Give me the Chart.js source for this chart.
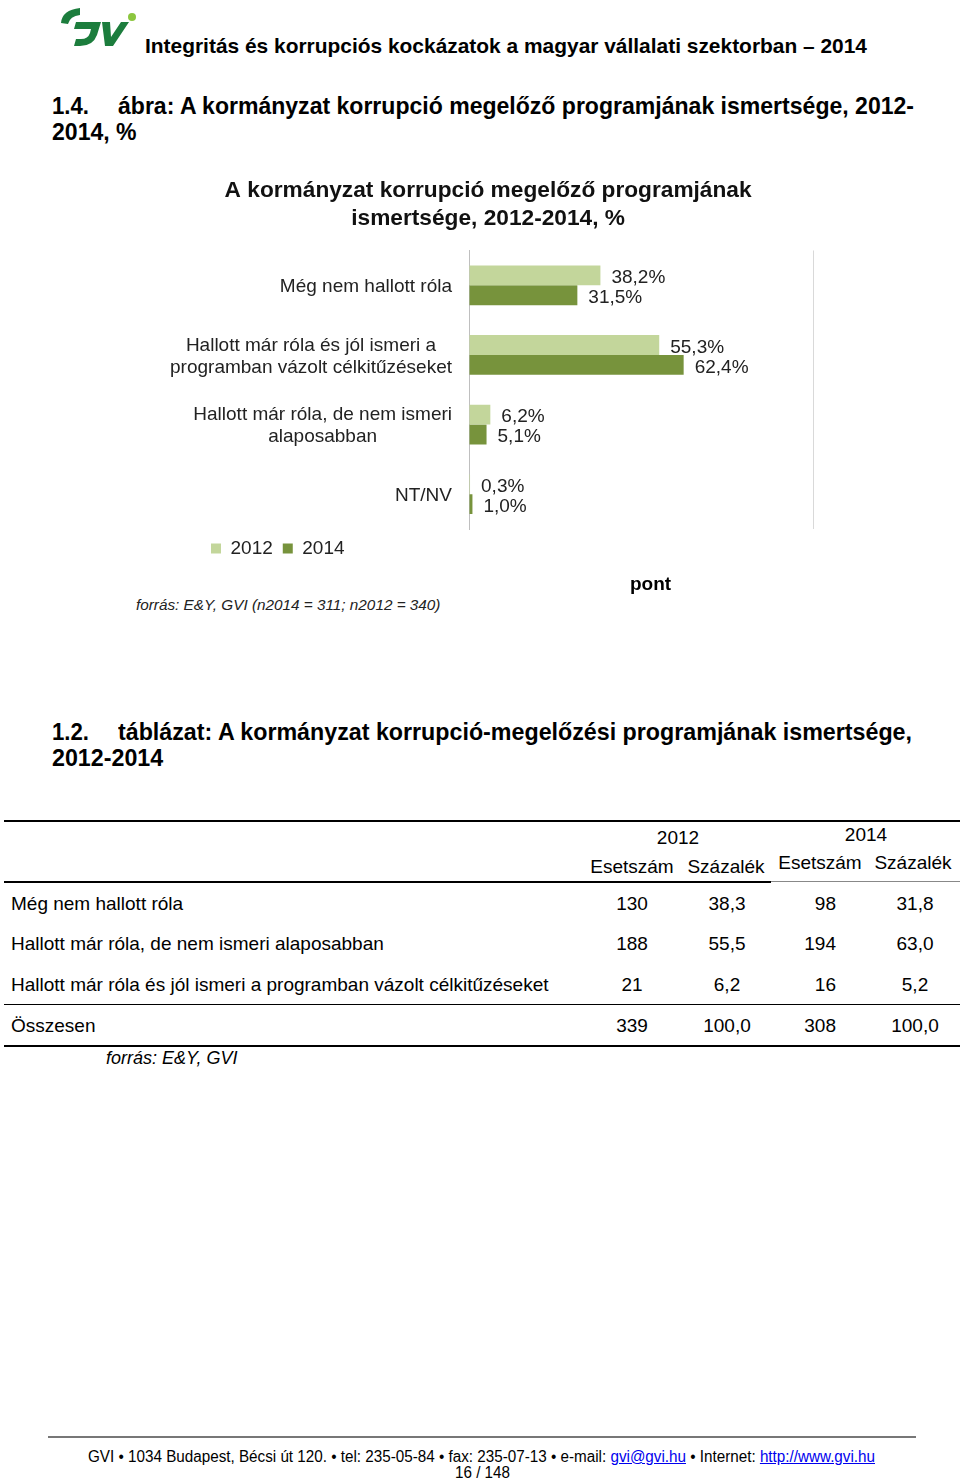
<!DOCTYPE html>
<html>
<head>
<meta charset="utf-8">
<script src="https://cdn.jsdelivr.net/npm/chart.js@4.4.1/dist/chart.umd.min.js"></script>
<style>
body { margin: 0; background: #fff; font-family: "Liberation Sans", Arial, sans-serif; color: #000; }
#page { position: relative; width: 960px; height: 1480px; overflow: hidden; }
.t { position: absolute; white-space: nowrap; line-height: 1; }
.b { font-weight: bold; }
.i { font-style: italic; }
.rule { position: absolute; }
.fit { position: absolute; white-space: nowrap; line-height: 1; transform-origin: 0 50%; }
.hd { font-weight: bold; font-size: 24px; }
#chart { position: absolute; left: 0; top: 165px; }
a { color: #0000ee; }
</style>
</head>
<body>
<div id="page">
  <svg style="position:absolute;left:0;top:0" width="145" height="56">
    <path d="M61 23 Q62 10 80 8 L80 15 Q70 16 68 24 Z" fill="#1c7d3d"/>
    <path d="M76 22 L101 22 L97 35 Q93 46 80 46 L74 46 L76 39 L81 39 Q88 39 90 33 L91 29 L74 29 Z" fill="#1c7d3d"/>
    <path d="M102 22 L110 22 L111 37 L121 22 L129 22 L113 46 L105 46 Z" fill="#1c7d3d"/>
    <circle cx="132" cy="17" r="4" fill="#8cc63f"/>
  </svg>
  <div class="fit b" style="left:145px;top:35px;font-size:21px" data-w="722">Integritás és korrupciós kockázatok a magyar vállalati szektorban – 2014</div>

  <div class="fit hd" style="left:52px;top:94px" data-w="37">1.4.</div>
  <div class="fit hd" id="h1" style="left:118px;top:94px" data-w="796">ábra: A kormányzat korrupció megelőző programjának ismertsége, 2012-</div>
  <div class="fit hd" style="left:52px;top:120px" data-like="h1">2014, %</div>

  <canvas id="chart" width="960" height="410"></canvas>
  <div class="t b" style="left:630px;top:574px;font-size:19px">pont</div>
  <div class="t i" style="left:136px;top:597px;font-size:15.3px;color:#222">forrás: E&amp;Y, GVI (n2014 = 311; n2012 = 340)</div>

  <div class="fit hd" style="left:52px;top:720px" data-w="37">1.2.</div>
  <div class="fit hd" id="h2" style="left:118px;top:720px" data-w="794">táblázat: A kormányzat korrupció-megelőzési programjának ismertsége,</div>
  <div class="fit hd" style="left:52px;top:746px" data-like="h2">2012-2014</div>

  <div id="table"></div>

  <div class="rule" style="left:48px;top:1436px;width:868px;height:2px;background:#777"></div>
  <div class="fit" style="left:88px;top:1449px;font-size:16px" data-w="787">GVI • 1034 Budapest, Bécsi út 120. • tel: 235-05-84 • fax: 235-07-13 • e-mail: <a href="#">gvi@gvi.hu</a> • Internet: <a href="#">http://www.gvi.hu</a></div>
  <div class="fit" style="left:455px;top:1465px;font-size:16px" data-w="55">16 / 148</div>
</div>

<script>
// chart data
const chartCategories = [
  ['Még nem hallott róla'],
  ['Hallott már róla és jól ismeri a', 'programban vázolt célkitűzéseket'],
  ['Hallott már róla, de nem ismeri', 'alaposabban'],
  ['NT/NV']
];
const seriesLabels = ['2012', '2014'];
const values2012 = [38.2, 55.3, 6.2, 0.3];
const values2014 = [31.5, 62.4, 5.1, 1.0];
const scaleMax = 100;

// table data
const tableRows = ['Még nem hallott róla', 'Hallott már róla, de nem ismeri alaposabban', 'Hallott már róla és jól ismeri a programban vázolt célkitűzéseket'];
const count2012 = [130, 188, 21];
const pct2012 = [38.3, 55.5, 6.2];
const count2014 = [98, 194, 16];
const pct2014 = [31.8, 63.0, 5.2];
const totalRow = ['Összesen', 339, 100.0, 308, 100.0];

const FONT = '"Liberation Sans", Arial, sans-serif';
const comma = v => v.toFixed(1).replace('.', ',');

// squeeze the narrow-font lines to the width they have in the original
const scales = {};
document.querySelectorAll('.fit[data-w]').forEach(el => {
  const s = +el.dataset.w / el.getBoundingClientRect().width;
  if (el.id) scales[el.id] = s;
  el.style.transform = 'scaleX(' + s + ')';
});
document.querySelectorAll('.fit[data-like]').forEach(el => {
  el.style.transform = 'scaleX(' + scales[el.dataset.like] + ')';
});

// y labels: each block right aligned, lines centred inside the block
const catLabels = {
  id: 'catLabels',
  afterDraw(chart) {
    const ctx = chart.ctx, y = chart.scales.y;
    ctx.save();
    ctx.font = '19px ' + FONT;
    ctx.fillStyle = '#222';
    ctx.textAlign = 'center';
    ctx.textBaseline = 'middle';
    const right = chart.chartArea.left - 17;
    chart.data.labels.forEach((lines, i) => {
      const w = Math.max(...lines.map(l => ctx.measureText(l).width));
      const cy = y.getPixelForTick(i);
      lines.forEach((l, k) => {
        ctx.fillText(l, right - w / 2, cy + (k - (lines.length - 1) / 2) * 22 + 1.5);
      });
    });
    ctx.restore();
  }
};

const valueLabels = {
  id: 'valueLabels',
  afterDatasetsDraw(chart) {
    const ctx = chart.ctx;
    ctx.save();
    ctx.font = '19px ' + FONT;
    ctx.fillStyle = '#222';
    ctx.textAlign = 'left';
    ctx.textBaseline = 'middle';
    chart.data.datasets.forEach((ds, di) => {
      chart.getDatasetMeta(di).data.forEach((bar, i) => {
        ctx.fillText(comma(ds.data[i]) + '%', bar.x + 11, bar.y + 2.5);
      });
    });
    ctx.restore();
  }
};

new Chart(document.getElementById('chart'), {
  type: 'bar',
  data: {
    labels: chartCategories,
    datasets: [
      { label: seriesLabels[0], data: values2012, backgroundColor: '#c3d69b', categoryPercentage: 0.572, barPercentage: 1 },
      { label: seriesLabels[1], data: values2014, backgroundColor: '#77933c', categoryPercentage: 0.572, barPercentage: 1 }
    ]
  },
  options: {
    indexAxis: 'y',
    responsive: false,
    animation: false,
    layout: { padding: { left: 201, right: 147, top: 0, bottom: 7 } },
    scales: {
      x: {
        min: 0, max: scaleMax,
        ticks: { display: false, stepSize: 50 },
        grid: { drawTicks: false, color: c => (c.tick && c.tick.value === scaleMax) ? '#d9d9d9' : 'rgba(0,0,0,0)' },
        border: { display: false }
      },
      y: {
        ticks: { display: false },
        grid: { display: false, drawTicks: false },
        border: { color: '#bfbfbf' },
        afterFit: s => { s.width = 268; }
      }
    },
    plugins: {
      title: {
        display: true,
        // trailing spaces pull the centred title left, like the original
        text: ['A kormányzat korrupció megelőző programjának' + '\u00a0'.repeat(6), 'ismertsége, 2012-2014, %' + '\u00a0'.repeat(6)],
        font: { size: 22.7, weight: 'bold', family: FONT, lineHeight: 1.2 },
        color: '#111',
        padding: { top: 12.5, bottom: 18.5 }
      },
      legend: {
        position: 'bottom',
        align: 'start',
        labels: { boxWidth: 10, boxHeight: 10, padding: 10, color: '#222', font: { size: 19, family: FONT } }
      },
      tooltip: { enabled: false }
    }
  },
  plugins: [catLabels, valueLabels]
});

// table
const tbl = document.getElementById('table');
function put(x, y, s, size, align, cls) {
  const d = document.createElement('div');
  d.className = 't' + (cls ? ' ' + cls : '');
  d.textContent = s;
  d.style.fontSize = size + 'px';
  d.style.top = (y - size * 0.5) + 'px';
  if (align === 'center') { d.style.left = x + 'px'; d.style.transform = 'translateX(-50%)'; }
  else if (align === 'right') { d.style.right = (960 - x) + 'px'; }
  else d.style.left = x + 'px';
  tbl.appendChild(d);
}
function rule(x, y, w, h, col) {
  const d = document.createElement('div');
  d.className = 'rule';
  Object.assign(d.style, { left: x + 'px', top: y + 'px', width: w + 'px', height: h + 'px', background: col });
  tbl.appendChild(d);
}
rule(4, 820, 956, 2, '#000');
put(678, 837, '2012', 19, 'center');
put(866, 834, '2014', 19, 'center');
put(632, 866, 'Esetszám', 19, 'center');
put(726, 866, 'Százalék', 19, 'center');
put(820, 862, 'Esetszám', 19, 'center');
put(913, 862, 'Százalék', 19, 'center');
rule(4, 881, 767, 2, '#000');
rule(771, 881, 189, 1, '#888');
const rowY = [903, 943, 984];
tableRows.forEach((r, i) => {
  put(11, rowY[i], r, 19);
  put(632, rowY[i], String(count2012[i]), 19, 'center');
  put(727, rowY[i], comma(pct2012[i]), 19, 'center');
  put(836, rowY[i], String(count2014[i]), 19, 'right');
  put(915, rowY[i], comma(pct2014[i]), 19, 'center');
});
rule(4, 1004, 956, 1, '#000');
put(11, 1025, totalRow[0], 19);
put(632, 1025, String(totalRow[1]), 19, 'center');
put(727, 1025, comma(totalRow[2]), 19, 'center');
put(836, 1025, String(totalRow[3]), 19, 'right');
put(915, 1025, comma(totalRow[4]), 19, 'center');
rule(4, 1045, 956, 2, '#000');
put(106, 1058, 'forrás: E&Y, GVI', 18, 'left', 'i');
</script>
</body>
</html>
